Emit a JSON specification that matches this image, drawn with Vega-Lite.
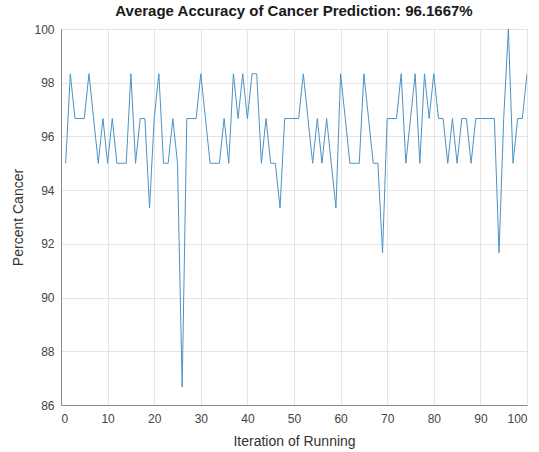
{
  "$schema": "https://vega.github.io/schema/vega-lite/v6.json",
  "autosize": {"type": "none"},
  "width": 466,
  "height": 376,
  "padding": {"left": 61, "top": 29, "right": 12, "bottom": 47},
  "background": "white",
  "title": {
    "text": "Average Accuracy of Cancer Prediction: 96.1667%",
    "font": "Liberation Sans",
    "fontSize": 15,
    "fontWeight": "bold",
    "color": "#1a1a1a",
    "anchor": "middle",
    "offset": 4
  },
  "config": {
    "view": {"stroke": "#8a8a8a", "strokeWidth": 1},
    "axis": {
      "labelFont": "Liberation Sans",
      "labelFontSize": 12,
      "labelColor": "#444444",
      "titleFont": "Liberation Sans",
      "titleFontSize": 14,
      "titleFontWeight": "normal",
      "titleColor": "#333333",
      "domainColor": "#8a8a8a",
      "gridColor": "#e4e4e4",
      "gridWidth": 1,
      "ticks": false
    }
  },
  "data": {
    "values": [
      {"iter": 1, "pct": 95.0},
      {"iter": 2, "pct": 98.3333},
      {"iter": 3, "pct": 96.6667},
      {"iter": 4, "pct": 96.6667},
      {"iter": 5, "pct": 96.6667},
      {"iter": 6, "pct": 98.3333},
      {"iter": 7, "pct": 96.6667},
      {"iter": 8, "pct": 95.0},
      {"iter": 9, "pct": 96.6667},
      {"iter": 10, "pct": 95.0},
      {"iter": 11, "pct": 96.6667},
      {"iter": 12, "pct": 95.0},
      {"iter": 13, "pct": 95.0},
      {"iter": 14, "pct": 95.0},
      {"iter": 15, "pct": 98.3333},
      {"iter": 16, "pct": 95.0},
      {"iter": 17, "pct": 96.6667},
      {"iter": 18, "pct": 96.6667},
      {"iter": 19, "pct": 93.3333},
      {"iter": 20, "pct": 96.6667},
      {"iter": 21, "pct": 98.3333},
      {"iter": 22, "pct": 95.0},
      {"iter": 23, "pct": 95.0},
      {"iter": 24, "pct": 96.6667},
      {"iter": 25, "pct": 95.0},
      {"iter": 26, "pct": 86.6667},
      {"iter": 27, "pct": 96.6667},
      {"iter": 28, "pct": 96.6667},
      {"iter": 29, "pct": 96.6667},
      {"iter": 30, "pct": 98.3333},
      {"iter": 31, "pct": 96.6667},
      {"iter": 32, "pct": 95.0},
      {"iter": 33, "pct": 95.0},
      {"iter": 34, "pct": 95.0},
      {"iter": 35, "pct": 96.6667},
      {"iter": 36, "pct": 95.0},
      {"iter": 37, "pct": 98.3333},
      {"iter": 38, "pct": 96.6667},
      {"iter": 39, "pct": 98.3333},
      {"iter": 40, "pct": 96.6667},
      {"iter": 41, "pct": 98.3333},
      {"iter": 42, "pct": 98.3333},
      {"iter": 43, "pct": 95.0},
      {"iter": 44, "pct": 96.6667},
      {"iter": 45, "pct": 95.0},
      {"iter": 46, "pct": 95.0},
      {"iter": 47, "pct": 93.3333},
      {"iter": 48, "pct": 96.6667},
      {"iter": 49, "pct": 96.6667},
      {"iter": 50, "pct": 96.6667},
      {"iter": 51, "pct": 96.6667},
      {"iter": 52, "pct": 98.3333},
      {"iter": 53, "pct": 96.6667},
      {"iter": 54, "pct": 95.0},
      {"iter": 55, "pct": 96.6667},
      {"iter": 56, "pct": 95.0},
      {"iter": 57, "pct": 96.6667},
      {"iter": 58, "pct": 95.0},
      {"iter": 59, "pct": 93.3333},
      {"iter": 60, "pct": 98.3333},
      {"iter": 61, "pct": 96.6667},
      {"iter": 62, "pct": 95.0},
      {"iter": 63, "pct": 95.0},
      {"iter": 64, "pct": 95.0},
      {"iter": 65, "pct": 98.3333},
      {"iter": 66, "pct": 96.6667},
      {"iter": 67, "pct": 95.0},
      {"iter": 68, "pct": 95.0},
      {"iter": 69, "pct": 91.6667},
      {"iter": 70, "pct": 96.6667},
      {"iter": 71, "pct": 96.6667},
      {"iter": 72, "pct": 96.6667},
      {"iter": 73, "pct": 98.3333},
      {"iter": 74, "pct": 95.0},
      {"iter": 75, "pct": 96.6667},
      {"iter": 76, "pct": 98.3333},
      {"iter": 77, "pct": 95.0},
      {"iter": 78, "pct": 98.3333},
      {"iter": 79, "pct": 96.6667},
      {"iter": 80, "pct": 98.3333},
      {"iter": 81, "pct": 96.6667},
      {"iter": 82, "pct": 96.6667},
      {"iter": 83, "pct": 95.0},
      {"iter": 84, "pct": 96.6667},
      {"iter": 85, "pct": 95.0},
      {"iter": 86, "pct": 96.6667},
      {"iter": 87, "pct": 96.6667},
      {"iter": 88, "pct": 95.0},
      {"iter": 89, "pct": 96.6667},
      {"iter": 90, "pct": 96.6667},
      {"iter": 91, "pct": 96.6667},
      {"iter": 92, "pct": 96.6667},
      {"iter": 93, "pct": 96.6667},
      {"iter": 94, "pct": 91.6667},
      {"iter": 95, "pct": 96.6667},
      {"iter": 96, "pct": 100.0},
      {"iter": 97, "pct": 95.0},
      {"iter": 98, "pct": 96.6667},
      {"iter": 99, "pct": 96.6667},
      {"iter": 100, "pct": 98.3333}
    ]
  },
  "mark": {"type": "line", "color": "#4a93c8", "strokeWidth": 1, "clip": true},
  "encoding": {
    "x": {
      "field": "iter",
      "type": "quantitative",
      "scale": {"domain": [0, 100], "nice": false},
      "axis": {"title": "Iteration of Running", "values": [0, 10, 20, 30, 40, 50, 60, 70, 80, 90, 100], "labelPadding": 8, "titlePadding": 10}
    },
    "y": {
      "field": "pct",
      "type": "quantitative",
      "scale": {"domain": [86, 100], "nice": false, "zero": false},
      "axis": {"title": "Percent Cancer", "values": [86, 88, 90, 92, 94, 96, 98, 100], "labelPadding": 7, "titlePadding": 8}
    }
  }
}
